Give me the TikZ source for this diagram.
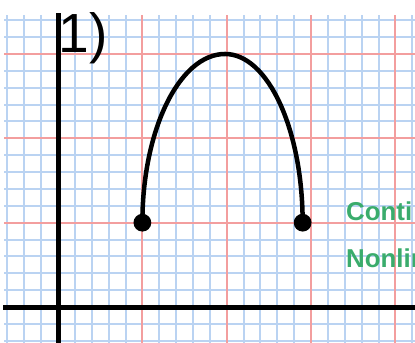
\documentclass[tikz,border=0pt]{standalone}
\usepackage{fontspec}
\setmainfont{Liberation Sans}
\definecolor{GridBlue}{RGB}{186,211,242}
\definecolor{GridRed}{RGB}{243,158,158}
\definecolor{LabelGreen}{RGB}{58,172,108}
\usepackage{tikz}
\usetikzlibrary{calc}

\begin{document}
\begin{tikzpicture}[x=0.5cm, y=0.5cm,
    minorline/.style={GridBlue, line width=1.7pt},
    majorline/.style={GridRed, line width=1.6pt},
    axisline/.style={black, line width=4.2pt},
    archline/.style={black, line width=3.8pt},
    enddot/.style={circle, fill=black, inner sep=0pt, minimum size=15pt},
    tag/.style={font=\fontsize{21.8}{26}\selectfont\bfseries, text=LabelGreen,
                inner sep=0pt, anchor=base west}]

    \useasboundingbox (-3.44,-2.13) rectangle (21.16,18.2);

    % Grid paper
    \draw[minorline, step=1] (-3.2,-2.2) grid (21.2,17.3);
    \foreach \x in {5,10,15,20}
        \draw[majorline] (\x,-2.2) -- (\x,17.3);
    \foreach \y in {5,10,15}
        \draw[majorline] (-3.2,\y) -- (21.2,\y);

    % Axes
    \draw[axisline] (0,-2.2) -- (0,17.4);
    \draw[axisline] (-3.25,0) -- (21.2,0);

    % Problem number
    \node[font=\fontsize{46.5}{50}\selectfont, inner sep=0pt, anchor=base west]
          (num) at (0.04,15.1) {1)};

    % Arch between the two end points
    \coordinate (L) at (5,5);
    \coordinate (T) at (9.9,15);
    \coordinate (R) at (14.5,5);
    \draw[archline] (L) .. controls (5,10.5) and (7.2,15) .. (T)
                        .. controls (12.45,15) and (14.5,10.5) .. (R);
    \node[enddot] (dotL) at (L) {};
    \node[enddot] (dotR) at (R) {};

    % Labels at the right edge
    \node[tag] (cont) at (17.07,5.12) {Conti};
    \node[tag] (nonl) at (17.07,2.35) {Nonlin};
\end{tikzpicture}
\end{document}
